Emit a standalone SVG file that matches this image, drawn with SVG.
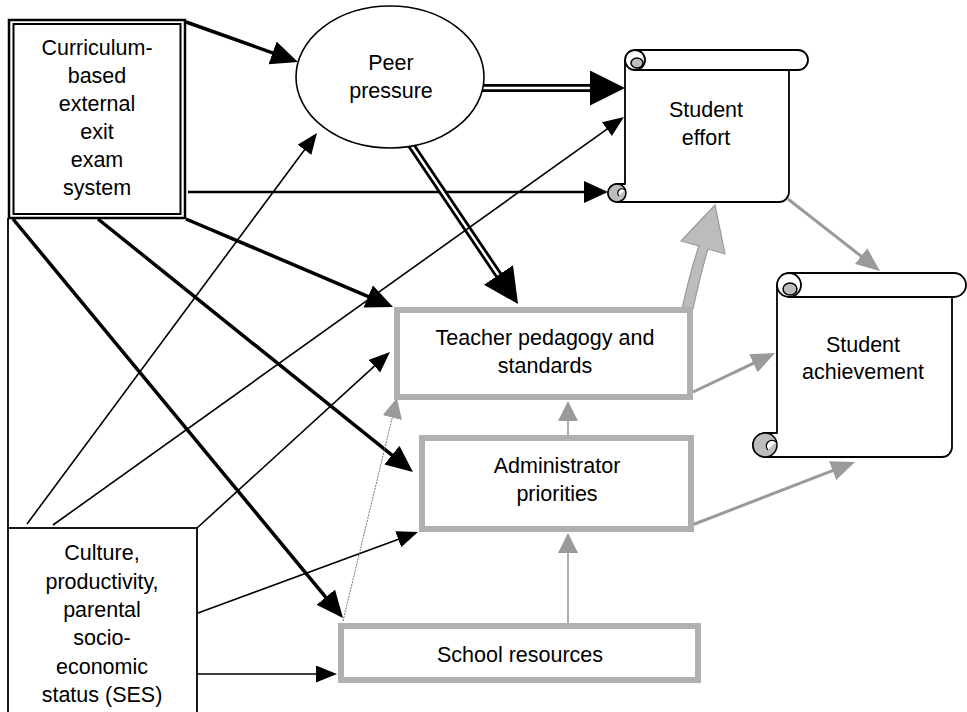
<svg xmlns="http://www.w3.org/2000/svg" width="967" height="712" viewBox="0 0 967 712">
<style>
  .t { font-family: "Liberation Sans", Arial, sans-serif; font-size: 21.5px; fill: #000; text-anchor: middle; }
  .blk { stroke: #000; fill: none; }
  .thin { stroke-width: 1.6; }
  .thick { stroke-width: 3.5; }
  .gry { stroke: #9a9a9a; fill: none; }
  .gbox { fill: #fff; stroke: #b0b0b0; stroke-width: 6; }
  .scroll { fill: #fff; stroke: #000; stroke-width: 1.8; stroke-linejoin: round; }
  .curl { fill: #bdbdbd; stroke: #000; stroke-width: 1.5; }
</style>
<defs>
  <marker id="aThin" markerUnits="userSpaceOnUse" markerWidth="24" markerHeight="20" refX="17" refY="8.5" orient="auto">
    <path d="M0,0 L21,8.5 L0,17 Z" fill="#000"/>
  </marker>
  <marker id="aMed" markerUnits="userSpaceOnUse" markerWidth="26" markerHeight="24" refX="18" refY="11" orient="auto">
    <path d="M0,0 L24,11 L0,22 Z" fill="#000"/>
  </marker>
  <marker id="aThick" markerUnits="userSpaceOnUse" markerWidth="30" markerHeight="26" refX="20" refY="12" orient="auto">
    <path d="M0,0 L27,12 L0,24 Z" fill="#000"/>
  </marker>
  <marker id="aBig" markerUnits="userSpaceOnUse" markerWidth="38" markerHeight="38" refX="2" refY="17.5" orient="auto">
    <path d="M0,0 L35,17.5 L0,35 Z" fill="#000"/>
  </marker>
  <marker id="aGray" markerUnits="userSpaceOnUse" markerWidth="26" markerHeight="22" refX="18" refY="10" orient="auto">
    <path d="M0,0 L24,10 L0,20 Z" fill="#9a9a9a"/>
  </marker>
  <marker id="aGraySm" markerUnits="userSpaceOnUse" markerWidth="22" markerHeight="22" refX="16" refY="10" orient="auto">
    <path d="M0,0 L20,10 L0,20 Z" fill="#9a9a9a"/>
  </marker>
</defs>

<g id="connectors">
  <line class="blk thick" x1="186" y1="22" x2="291.4" y2="59.6" marker-end="url(#aThick)"/>
  <line class="blk" stroke-width="2.6" x1="188" y1="192" x2="602" y2="192" marker-end="url(#aMed)"/>
  <line class="blk thick" x1="186" y1="219" x2="386.6" y2="304.3" marker-end="url(#aThick)"/>
  <line class="blk thick" x1="98" y1="219" x2="407.5" y2="467.6" marker-end="url(#aThick)"/>
  <line class="blk thick" x1="13" y1="219" x2="338.5" y2="612.6" marker-end="url(#aThick)"/>
  <line class="blk" stroke-width="8" x1="482" y1="88" x2="592" y2="88" marker-end="url(#aBig)"/>
  <line stroke="#fff" stroke-width="2.4" x1="482" y1="88" x2="590" y2="88"/>
  <line class="blk" stroke-width="8" x1="411" y1="145" x2="499.6" y2="276.6" marker-end="url(#aBig)"/>
  <line stroke="#fff" stroke-width="2.4" x1="411" y1="145" x2="498.5" y2="275"/>
  <line class="blk thin" x1="27" y1="524" x2="314.6" y2="136.2" marker-end="url(#aThin)"/>
  <line class="blk thin" x1="53" y1="525" x2="620.7" y2="119.3" marker-end="url(#aThin)"/>
  <line class="blk thin" x1="197" y1="528" x2="387" y2="354.7" marker-end="url(#aThin)"/>
  <line class="blk thin" x1="198" y1="613" x2="414.2" y2="533.4" marker-end="url(#aThin)"/>
  <line class="blk thin" x1="198" y1="674" x2="333" y2="674" marker-end="url(#aThin)"/>
  <line class="blk" stroke-width="1.8" x1="8" y1="218" x2="8" y2="528"/>
  <line class="gry" stroke-width="3" x1="788" y1="199" x2="875.3" y2="267.3" marker-end="url(#aGray)"/>
  <line class="gry" stroke-width="3" x1="693" y1="392" x2="769.6" y2="355.6" marker-end="url(#aGray)"/>
  <line class="gry" stroke-width="3" x1="692" y1="525" x2="849.4" y2="464.2" marker-end="url(#aGray)"/>
  <line class="gry" stroke-width="1.6" x1="568" y1="623" x2="568" y2="537" marker-end="url(#aGraySm)"/>
  <line class="gry" stroke-width="1.6" x1="568" y1="435" x2="568" y2="405" marker-end="url(#aGraySm)"/>
  <line stroke="#777" fill="none" stroke-width="1" stroke-dasharray="2,1" x1="343" y1="621" x2="396" y2="402" marker-end="url(#aGraySm)"/>
  <path d="M682,309 Q690,272 699,246 L681,241 L715,205 L725,254 L708,249 Q700,276 693,309 Z" fill="#bcbcbc" stroke="#9a9a9a" stroke-width="1.2"/>
</g>

<g id="curriculum">
  <rect x="9" y="20" width="176" height="198" fill="#fff" stroke="#000" stroke-width="2.5"/>
  <rect x="13.5" y="24" width="167" height="190" fill="none" stroke="#000" stroke-width="2"/>
  <text class="t" x="97" y="55">Curriculum-</text>
  <text class="t" x="97" y="83">based</text>
  <text class="t" x="97" y="111">external</text>
  <text class="t" x="97" y="139">exit</text>
  <text class="t" x="97" y="167">exam</text>
  <text class="t" x="97" y="195">system</text>
</g>

<g id="peer-pressure">
  <ellipse cx="390" cy="77" rx="94" ry="71" fill="#fff" stroke="#000" stroke-width="1.6"/>
  <text class="t" x="391" y="70">Peer</text>
  <text class="t" x="391" y="98">pressure</text>
</g>

<g id="student-effort">
  <path class="scroll" d="M625,60 A10,10 0 0 1 635,50 H798 A10,10 0 0 1 798,70 H789 V192 A10,10 0 0 1 779,202 H617 A9,9 0 0 1 617,184 H625 Z"/>
  <path d="M798,70 H635 M625,60 A10,10 0 0 0 645,60 A10,10 0 0 0 635,50" fill="none" stroke="#000" stroke-width="1.8"/>
  <ellipse class="curl" cx="637" cy="63" rx="6" ry="5"/>
  <circle class="curl" cx="617" cy="193" r="9"/>
  <path d="M625,190 A4,4 0 1 0 619,196" fill="#fff" stroke="#000" stroke-width="1.2"/>
  <text class="t" x="706" y="117">Student</text>
  <text class="t" x="706" y="145">effort</text>
</g>

<g id="student-achievement">
  <path class="scroll" d="M777,285 A12,12 0 0 1 789,273 H954 A12,12 0 0 1 954,297 H952 V447 A10,10 0 0 1 942,457 H765 A12,12 0 0 1 765,433 H777 Z"/>
  <path d="M954,297 H789 M777,285 A12,12 0 0 0 801,285 A12,12 0 0 0 789,273" fill="none" stroke="#000" stroke-width="1.8"/>
  <ellipse class="curl" cx="790" cy="289" rx="7" ry="6"/>
  <circle class="curl" cx="765" cy="445" r="12"/>
  <path d="M776,442 A5,5 0 1 0 768,450" fill="#fff" stroke="#000" stroke-width="1.2"/>
  <text class="t" x="863" y="352">Student</text>
  <text class="t" x="863" y="379">achievement</text>
</g>

<g id="teacher-pedagogy">
  <rect class="gbox" x="397" y="310" width="293" height="87"/>
  <text class="t" x="545" y="345">Teacher pedagogy and</text>
  <text class="t" x="545" y="373">standards</text>
</g>

<g id="administrator-priorities">
  <rect class="gbox" x="422" y="438" width="269" height="91"/>
  <text class="t" x="557" y="473">Administrator</text>
  <text class="t" x="557" y="501">priorities</text>
</g>

<g id="school-resources">
  <rect class="gbox" x="341" y="626" width="357" height="54"/>
  <text class="t" x="520" y="662">School resources</text>
</g>

<g id="culture">
  <rect x="8" y="528" width="189" height="190" fill="#fff" stroke="#000" stroke-width="1.8"/>
  <text class="t" x="102" y="560">Culture,</text>
  <text class="t" x="102" y="589">productivity,</text>
  <text class="t" x="102" y="617">parental</text>
  <text class="t" x="102" y="645">socio-</text>
  <text class="t" x="102" y="674">economic</text>
  <text class="t" x="102" y="702">status (SES)</text>
</g>
</svg>
